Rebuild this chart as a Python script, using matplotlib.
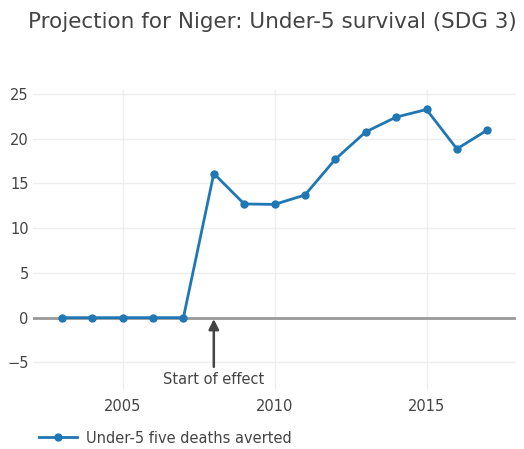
import matplotlib
matplotlib.use("Agg")
import matplotlib.pyplot as plt

# Data
years = [2003, 2004, 2005, 2006, 2007, 2008, 2009, 2010,
         2011, 2012, 2013, 2014, 2015, 2016, 2017]
deaths_averted = [0, 0, 0, 0, 0, 16.1, 12.7, 12.65,
                  13.7, 17.7, 20.75, 22.4, 23.25, 18.85, 20.95]
effect_year = 2008
x_ticks = [2005, 2010, 2015]
y_ticks = [-5, 0, 5, 10, 15, 20, 25]

plt.rcParams.update({
    "font.family": "DejaVu Sans",
    "text.color": "#444444",
    "xtick.color": "#444444",
    "ytick.color": "#444444",
})

fig = plt.figure(figsize=(5.24, 4.49), dpi=100)
ax = fig.add_axes([0.063, 0.131, 0.922, 0.668])

ax.plot(years, deaths_averted, color="#1f77b4", lw=2, marker="o", ms=5,
        label="Under-5 five deaths averted", zorder=3)

ax.axhline(0, color="#999999", lw=2, zorder=2)

# Annotation arrow
ax.annotate("", xy=(effect_year, 0), xytext=(effect_year, -5.5),
            arrowprops=dict(arrowstyle="-|>,head_length=0.6,head_width=0.3",
                            color="#444444", lw=1.8, shrinkA=0, shrinkB=1))
ax.text(effect_year, -6.95, "Start of effect", ha="center", va="center",
        fontsize=10.5, color="#444444")

ax.set_xlim(2002.05, 2017.95)
ax.set_ylim(-8.1, 25.4)
ax.set_xticks(x_ticks)
ax.set_yticks(y_ticks)
ax.set_yticklabels(["\u22125" if v < 0 else str(v) for v in y_ticks])
ax.tick_params(length=0, labelsize=10.5)
ax.tick_params(axis="y", pad=3)
ax.tick_params(axis="x", pad=6)
ax.grid(color="#eeeeee", lw=1)
ax.set_axisbelow(True)
for s in ax.spines.values():
    s.set_visible(False)

fig.text(0.053, 0.95, "Projection for Niger: Under-5 survival (SDG 3)",
         fontsize=15.5, color="#444444", ha="left", va="center")

ax.legend(loc="upper left", bbox_to_anchor=(0.0, -0.115), frameon=False,
          fontsize=10.5, handlelength=2.6, handletextpad=0.6, borderaxespad=0)

fig.savefig("out.png", dpi=100)
